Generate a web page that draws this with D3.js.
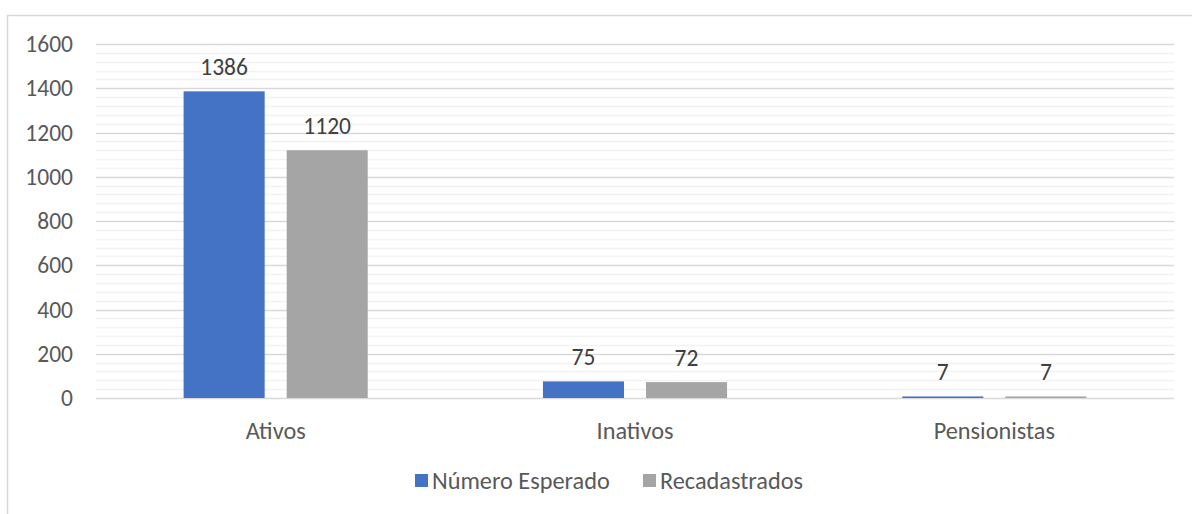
<!DOCTYPE html>
<html><head><meta charset="utf-8">
<script src="https://cdn.jsdelivr.net/npm/d3@7"></script>
<style>body{margin:0;background:#fff;}svg{display:block;}svg text{font-family:Carlito,"Open Sans","Noto Sans",sans-serif;}</style>
</head><body>
<svg id="c" width="1192" height="514"></svg>
<script>
const categories = ["Ativos", "Inativos", "Pensionistas"];
const seriesNames = ["Número Esperado", "Recadastrados"];
const numeroEsperado = [1386, 75, 7];
const recadastrados = [1120, 72, 7];
const yTicks = [0, 200, 400, 600, 800, 1000, 1200, 1400, 1600];
const colors = ["#4472c4", "#a5a5a5"];

(function(){
const FS = 23.5, FS2 = 24.3;
const svg = d3.select("#c");
svg.append("rect").attr("x",7.5).attr("y",15.5).attr("width",1300).attr("height",700)
  .attr("fill","#fff").attr("stroke","#d9d9d9").attr("stroke-width",1.5);

const pl = 96, pr = 1174, pt = 44, pb = 398;
const x = d3.scaleBand().domain(categories).range([pl, pr]);
const y = d3.scaleLinear().domain([0, 1600]).range([pb, pt]);
const x1 = d3.scaleBand().domain(seriesNames).range([0, x.bandwidth()]).paddingInner(0.2136).paddingOuter(0.85);

const minor = d3.range(0, 1601, 40).filter(v => v % 200 !== 0);
svg.append("g").selectAll("line").data(minor).join("line")
  .attr("x1", pl).attr("x2", pr).attr("y1", d => Math.round(y(d))+0.5).attr("y2", d => Math.round(y(d))+0.5)
  .attr("stroke", "#f2f2f2").attr("stroke-width", 1.5);
svg.append("g").selectAll("line").data(yTicks).join("line")
  .attr("x1", pl).attr("x2", pr).attr("y1", d => Math.round(y(d))+0.5).attr("y2", d => Math.round(y(d))+0.5)
  .attr("stroke", "#d9d9d9").attr("stroke-width", 1.5);

const yAxis = d3.axisLeft(y).tickValues(yTicks).tickFormat(d3.format("d")).tickSize(0).tickPadding(0);
const ga = svg.append("g").attr("transform", `translate(73,0)`).call(yAxis);
ga.select(".domain").remove();
ga.attr("font-family", null).attr("font-size", null);
ga.selectAll("text").attr("font-size", FS).attr("fill", "#595959");

const data = categories.map((c, i) => ({c, vals: [numeroEsperado[i], recadastrados[i]]}));
const g = svg.append("g");
data.forEach(d => {
  d.vals.forEach((v, j) => {
    const bx = x(d.c) + x1(seriesNames[j]);
    g.append("rect").attr("x", bx).attr("width", x1.bandwidth())
      .attr("y", y(v)).attr("height", pb - y(v)).attr("fill", colors[j]);
    g.append("text").attr("x", bx + x1.bandwidth()/2).attr("y", y(v) - 16)
      .attr("text-anchor", "middle").attr("font-size", FS).attr("fill", "#404040").text(v);
  });
});

const gx = svg.append("g").attr("transform", `translate(0,${pb})`).call(d3.axisBottom(x).tickSize(0).tickPadding(0));
gx.select(".domain").remove();
gx.attr("font-family", null).attr("font-size", null);
gx.selectAll("text").attr("dy", null).attr("y", 41).attr("font-size", FS2).attr("fill", "#595959");

const legendX = [415, 643];
seriesNames.forEach((s, j) => {
  svg.append("rect").attr("x", legendX[j]).attr("y", 474).attr("width", 13).attr("height", 13).attr("fill", colors[j]);
  svg.append("text").attr("x", legendX[j] + 17).attr("y", 489).attr("font-size", FS2).attr("fill", "#595959").text(s);
});
})();
</script>
</body></html>
